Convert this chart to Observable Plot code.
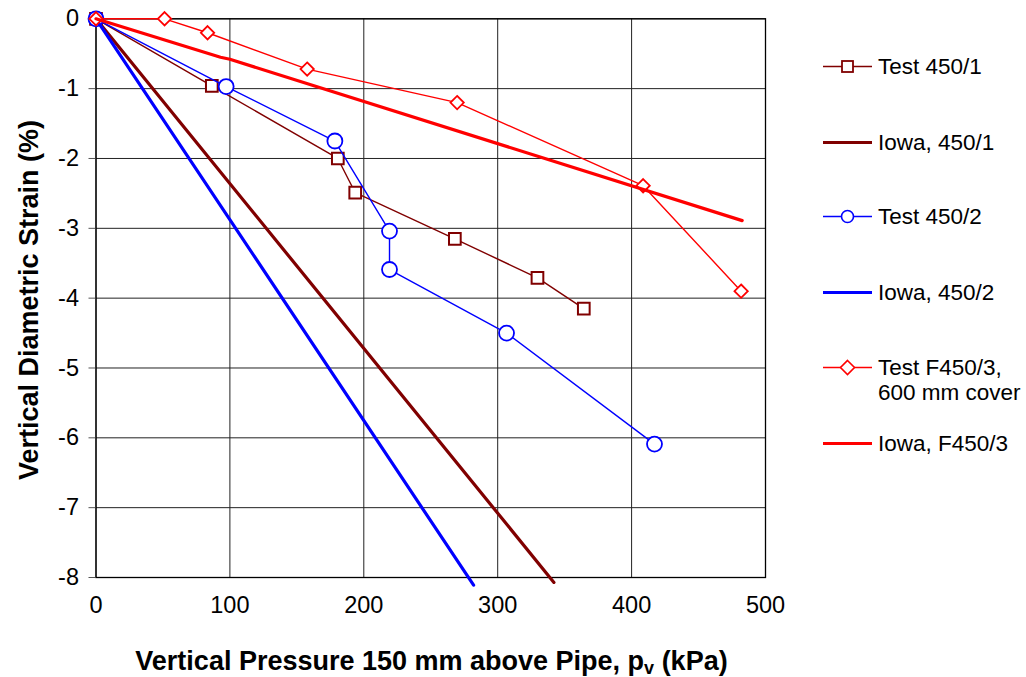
<!DOCTYPE html>
<html><head><meta charset="utf-8">
<script src="https://cdn.jsdelivr.net/npm/d3@7"></script>
<script src="https://cdn.jsdelivr.net/npm/@observablehq/plot@0.6"></script>
<style>
body{margin:0;background:#fff;font-family:"Liberation Sans",Arial,sans-serif;}
#wrap{display:flex;width:1026px;height:677px;}
#legend{position:relative;width:226px;height:677px;}
.item{position:absolute;left:22px;display:flex;align-items:flex-start;font-size:22.5px;line-height:25px;color:#000;white-space:nowrap;}
.item svg{flex:none;margin-right:6px;}
</style></head><body><div id="wrap"><div id="chart"></div><div id="legend"></div></div>
<script>
// Data
const test1P = [0, 86.5, 180.6, 193.6, 268, 329.7, 364.3];
const test1S = [0, -0.96, -2.0, -2.49, -3.15, -3.71, -4.15];
const test2P = [0, 97.2, 178.4, 219.2, 219.2, 306.6, 417.1];
const test2S = [0, -0.97, -1.75, -3.04, -3.59, -4.5, -6.09];
const test3P = [0, 51.2, 83.3, 157.7, 269.7, 408.6, 481.8];
const test3S = [0, 0, -0.2, -0.72, -1.2, -2.39, -3.9];
const iowa1P = [0, 342];
const iowa1S = [0, -8.07];
const iowa2P = [0, 282];
const iowa2S = [0, -8.11];
const iowa3P = [0, 93, 100, 482.6];
const iowa3S = [0, -0.55, -0.58, -2.89];
const xTicks = [0, 100, 200, 300, 400, 500];
const yTicks = [0, -1, -2, -3, -4, -5, -6, -7, -8];
const seriesNames = ["Test 450/1", "Iowa, 450/1", "Test 450/2", "Iowa, 450/2", "Test F450/3, 600 mm cover", "Iowa, F450/3"];
const seriesColors = ["#800000", "#800000", "#0000ff", "#0000ff", "#ff0000", "#ff0000"];
const xTitle = "Vertical Pressure 150 mm above Pipe, p";
const xTitleSub = "v";
const xTitleEnd = " (kPa)";
const yTitle = "Vertical Diametric Strain (%)";

const tbl = (P, S) => P.map((p, i) => ({p, s: S[i]}));
const t1 = tbl(test1P, test1S), t2 = tbl(test2P, test2S), t3 = tbl(test3P, test3S);
const i1 = tbl(iowa1P, iowa1S), i2 = tbl(iowa2P, iowa2S), i3 = tbl(iowa3P, iowa3S);

const thin = 1.4, thick = 3.2;
const chart = Plot.plot({
  width: 800, height: 677,
  marginLeft: 95.5, marginRight: 35, marginTop: 18.3, marginBottom: 100,
  style: {fontFamily: '"Liberation Sans", Arial, sans-serif', fontSize: "23.5px", color: "#000", background: "#fff", overflow: "visible"},
  x: {domain: [0, 500]},
  y: {domain: [-8, 0]},
  marks: [
    Plot.gridX(xTicks, {stroke: "#222", strokeOpacity: 1, strokeWidth: 1}),
    Plot.gridY(yTicks, {stroke: "#222", strokeOpacity: 1, strokeWidth: 1}),
    Plot.frame({stroke: "#000", strokeWidth: 1.3}),
    Plot.axisY(yTicks, {tickSize: 7, tickPadding: 10, label: null, fontSize: 23.5, tickFormat: d => String(d), stroke: "#555"}),
    Plot.axisX(xTicks, {tickSize: 0, tickPadding: 19, label: null, fontSize: 23.5, tickFormat: d => String(d)}),
    Plot.line(t1, {x: "p", y: "s", stroke: seriesColors[0], strokeWidth: thin}),
    Plot.dot(t1, {x: "p", y: "s", symbol: "square", r: 6.6, stroke: seriesColors[0], strokeWidth: 2, fill: "#fff"}),
    Plot.line(i1, {x: "p", y: "s", stroke: seriesColors[1], strokeWidth: thick}),
    Plot.line(t2, {x: "p", y: "s", stroke: seriesColors[2], strokeWidth: thin}),
    Plot.dot(t2, {x: "p", y: "s", symbol: "circle", r: 7.5, stroke: seriesColors[2], strokeWidth: 1.8, fill: "#fff"}),
    Plot.line(i2, {x: "p", y: "s", stroke: seriesColors[3], strokeWidth: thick}),
    Plot.line(t3, {x: "p", y: "s", stroke: seriesColors[4], strokeWidth: thin}),
    Plot.dot(t3, {x: "p", y: "s", symbol: "diamond2", r: 6, stroke: seriesColors[4], strokeWidth: 1.8, fill: "#fff"}),
    Plot.line(i3, {x: "p", y: "s", stroke: seriesColors[5], strokeWidth: thick})
  ]
});
document.getElementById("chart").appendChild(chart);

// Axis titles
const svg = d3.select(chart);
const xt = svg.append("text")
  .attr("x", 431.5).attr("y", 670)
  .attr("text-anchor", "middle")
  .attr("font-weight", "bold").attr("font-size", 27).attr("fill", "#000");
xt.append("tspan").text(xTitle);
xt.append("tspan").attr("font-size", 18).attr("dy", 4).text(xTitleSub);
xt.append("tspan").attr("dy", -4).text(xTitleEnd);
svg.append("text")
  .attr("transform", "translate(38,300) rotate(-90)")
  .attr("text-anchor", "middle")
  .attr("font-weight", "bold").attr("font-size", 27).attr("fill", "#000")
  .text(yTitle);

// Legend
const legendTops = [66, 142.7, 216.7, 292.3, 367, 443.3];
const legendSymbols = ["square", null, "circle", null, "diamond", null];
const legend = d3.select("#legend");
seriesNames.forEach((name, i) => {
  const item = legend.append("div").attr("class", "item").style("top", (legendTops[i] - 12.5) + "px");
  const s = item.append("svg").attr("width", 50).attr("height", 25);
  const isThick = legendSymbols[i] === null;
  s.append("line").attr("x1", 1).attr("x2", 50).attr("y1", 12.5).attr("y2", 12.5)
    .attr("stroke", seriesColors[i]).attr("stroke-width", isThick ? thick : thin);
  if (legendSymbols[i] === "square") {
    s.append("rect").attr("x", 20).attr("y", 7).attr("width", 11).attr("height", 11)
      .attr("fill", "#fff").attr("stroke", seriesColors[i]).attr("stroke-width", 1.8);
  } else if (legendSymbols[i] === "circle") {
    s.append("circle").attr("cx", 25.5).attr("cy", 12.5).attr("r", 6)
      .attr("fill", "#fff").attr("stroke", seriesColors[i]).attr("stroke-width", 1.6);
  } else if (legendSymbols[i] === "diamond") {
    s.append("path").attr("d", "M25.5,5.5L32.5,12.5L25.5,19.5L18.5,12.5Z")
      .attr("fill", "#fff").attr("stroke", seriesColors[i]).attr("stroke-width", 1.6);
  }
  const txt = item.append("div");
  const parts = name.split(", 600");
  if (parts.length > 1) { txt.append("div").text(parts[0] + ","); txt.append("div").text("600" + parts[1]); }
  else txt.text(name);
});
</script></body></html>
